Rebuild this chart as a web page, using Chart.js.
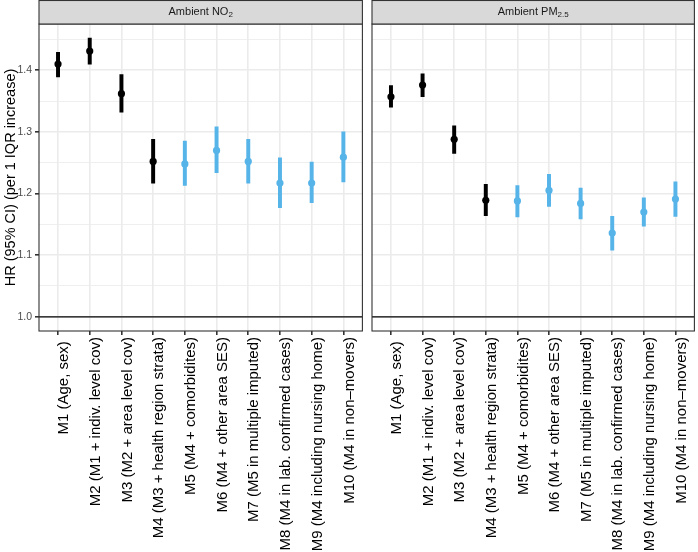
<!DOCTYPE html>
<html><head><meta charset="utf-8">
<script src="https://cdn.jsdelivr.net/npm/chart.js@4"></script>
<style>
html,body{margin:0;padding:0;background:#fff;}
#wrap{position:relative;width:698px;height:552px;overflow:hidden;}
.panel{position:absolute;top:0;height:552px;}
</style></head><body>
<div id="wrap">
<div class="panel" style="left:0;width:366px"><canvas id="c1"></canvas></div>
<div class="panel" style="left:366px;width:332px"><canvas id="c2"></canvas></div>
</div>
<script>
// ---- data ----
const categories = [
  "M1 (Age, sex) ",
  "M2 (M1 + indiv. level cov)",
  "M3 (M2 + area level cov)",
  "M4 (M3 + health region strata)",
  "M5 (M4 + comorbidites)",
  "M6 (M4 + other area SES)",
  "M7 (M5 in multiple imputed)",
  "M8 (M4 in lab. confirmed cases)",
  "M9 (M4 including nursing home)",
  "M10 (M4 in non\u2013movers)"
];
const modelGroup = ["main","main","main","main","sens","sens","sens","sens","sens","sens"];

const no2Est = [1.410, 1.431, 1.362, 1.252, 1.248, 1.270, 1.252, 1.217, 1.217, 1.259];
const no2Lo  = [1.389, 1.410, 1.332, 1.217, 1.213, 1.234, 1.217, 1.177, 1.185, 1.219];
const no2Hi  = [1.429, 1.452, 1.393, 1.288, 1.285, 1.308, 1.288, 1.258, 1.251, 1.300];

const pm25Est = [1.357, 1.376, 1.288, 1.189, 1.188, 1.205, 1.184, 1.136, 1.170, 1.191];
const pm25Lo  = [1.340, 1.357, 1.265, 1.164, 1.162, 1.179, 1.159, 1.108, 1.147, 1.163];
const pm25Hi  = [1.375, 1.394, 1.310, 1.215, 1.213, 1.231, 1.209, 1.163, 1.193, 1.219];

const yMajorTicks = [1.0, 1.1, 1.2, 1.3, 1.4];
const yTickLabels = ["1.0", "1.1", "1.2", "1.3", "1.4"];
const yMinorTicks = [1.05, 1.15, 1.25, 1.35, 1.45];
const refValue = 1.0;
const yTitle = "HR (95% CI) (per 1 IQR increase)";
const panelTitles = [
  {main: "Ambient NO", sub: "2"},
  {main: "Ambient PM", sub: "2.5"}
];

// ---- styles ----
const FONT = "'Liberation Sans', Arial, Helvetica, sans-serif";
const groupColor = {main: "#000000", sens: "#56B4E9"};
const colors = modelGroup.map(g => groupColor[g]);
const Y_MIN = 0.977, Y_MAX = 1.475, X_MIN = 0.4, X_MAX = 10.6;

function idxOfMajor(v){ return yMajorTicks.findIndex(m => Math.abs(m - v) < 1e-9); }

const facetPlugin = {
  id: 'facet',
  afterDraw(chart, args, opts) {
    const {ctx, chartArea: a} = chart;
    ctx.save();
    ctx.strokeStyle = '#333333';
    ctx.lineWidth = 1.1;
    ctx.strokeRect(a.left, a.top, a.right - a.left, a.bottom - a.top);
    ctx.fillStyle = '#D9D9D9';
    ctx.fillRect(a.left, 0.5, a.right - a.left, a.top - 0.5);
    ctx.strokeRect(a.left, 0.5, a.right - a.left, a.top - 0.5);
    const mainFont = "11px " + FONT, subFont = "8px " + FONT;
    ctx.font = mainFont; const wm = ctx.measureText(opts.main).width;
    ctx.font = subFont; const ws = ctx.measureText(opts.sub).width;
    let x = (a.left + a.right) / 2 - (wm + ws) / 2;
    ctx.fillStyle = '#1A1A1A';
    ctx.textAlign = 'left';
    ctx.textBaseline = 'middle';
    ctx.font = mainFont; ctx.fillText(opts.main, x, 12);
    ctx.font = subFont; ctx.fillText(opts.sub, x + wm, 15);
    ctx.restore();
  }
};

function makeChart(canvasId, est, lo, hi, title, isLeft) {
  const pts = est.map((v, i) => ({x: i + 1, y: v}));
  const bars = lo.map((v, i) => ({x: i + 1, y: [v, hi[i]]}));
  return new Chart(document.getElementById(canvasId), {
    type: 'scatter',
    data: {
      datasets: [
        {type: 'scatter', data: pts, pointRadius: 3.6, pointHoverRadius: 3.6,
         pointBackgroundColor: colors, pointBorderWidth: 0, order: 0},
        {type: 'bar', data: bars, backgroundColor: colors, borderWidth: 0,
         barThickness: 3.3, order: 1},
        {type: 'line', data: [{x: X_MIN, y: refValue}, {x: X_MAX, y: refValue}],
         borderColor: '#000000', borderWidth: 1.3, pointRadius: 0, order: 2}
      ]
    },
    plugins: [facetPlugin],
    options: {
      responsive: true, maintainAspectRatio: false, animation: false,
      layout: {padding: {top: 24, left: isLeft ? 0 : 6, right: isLeft ? 1.5 : 1, bottom: 0}},
      plugins: {legend: {display: false}, tooltip: {enabled: false}, facet: title},
      scales: {
        x: {
          type: 'linear', min: X_MIN, max: X_MAX, offset: false,
          afterBuildTicks: s => { s.ticks = categories.map((c, i) => ({value: i + 1})); },
          afterFit: s => { s.height = 221; },
          border: {display: false},
          grid: {color: '#EBEBEB', lineWidth: 1.6, tickColor: '#333333', tickLength: 4, offset: false},
          ticks: {
            autoSkip: false, minRotation: 90, maxRotation: 90, padding: 2, labelOffset: 6,
            color: '#000000', font: {family: FONT, size: 15},
            callback: v => categories[Math.round(v) - 1]
          }
        },
        y: {
          type: 'linear', min: Y_MIN, max: Y_MAX,
          afterBuildTicks: s => {
            s.ticks = yMajorTicks.concat(yMinorTicks).sort((a, b) => a - b).map(v => ({value: v}));
          },
          afterFit: s => { s.width = isLeft ? 39 : 0; },
          border: {display: false},
          grid: {
            color: '#EBEBEB',
            lineWidth: c => (c.tick && idxOfMajor(c.tick.value) >= 0) ? 1.6 : 0.8,
            tickColor: c => (isLeft && c.tick && idxOfMajor(c.tick.value) >= 0) ? '#333333' : 'rgba(0,0,0,0)',
            tickLength: 4, drawTicks: isLeft
          },
          ticks: {
            display: isLeft, padding: 3, color: '#4D4D4D', font: {family: FONT, size: 10.5},
            callback: v => { const k = idxOfMajor(v); return k >= 0 ? yTickLabels[k] : ''; }
          },
          title: {display: isLeft, text: yTitle, color: '#000000',
                  font: {family: FONT, size: 14.5}, padding: {top: 2, bottom: 0}}
        }
      }
    }
  });
}

makeChart('c1', no2Est, no2Lo, no2Hi, panelTitles[0], true);
makeChart('c2', pm25Est, pm25Lo, pm25Hi, panelTitles[1], false);
</script>
</body></html>
